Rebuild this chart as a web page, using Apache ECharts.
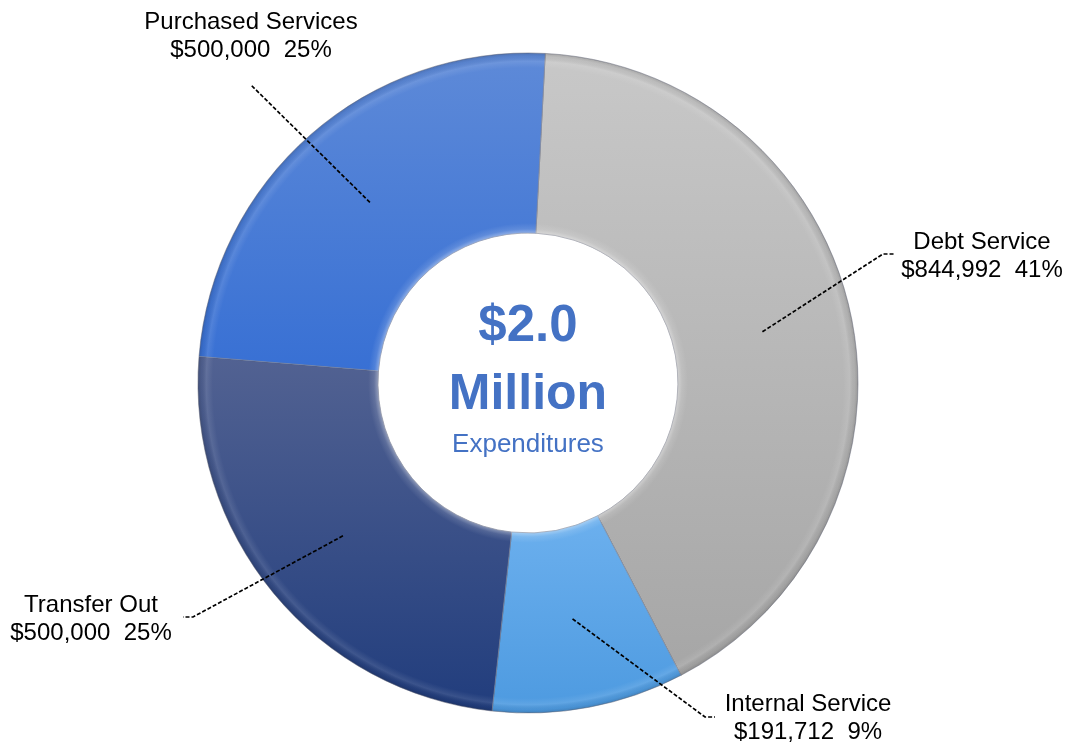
<!DOCTYPE html>
<html>
<head>
<meta charset="utf-8">
<script src="https://cdn.jsdelivr.net/npm/echarts@6/dist/echarts.min.js"></script>
<style>
  html, body { margin: 0; padding: 0; background: #ffffff; }
  #chart { width: 1072px; height: 747px; }
</style>
</head>
<body>
<div id="chart"></div>
<script>
// Expenditure categories, clockwise from the top
const categories = ['Debt Service', 'Internal Service', 'Transfer Out', 'Purchased Services'];
const amounts = [844992, 191712, 500000, 500000];

// Centre caption
const totalLabel = '$2.0';
const unitLabel = 'Million';
const captionLabel = 'Expenditures';

// Slice fills (top colour, bottom colour)
const sliceFills = [
  ['#c8c8c8', '#a6a6a6'],
  ['#6cb0ee', '#4d9ae0'],
  ['#526292', '#213d7d'],
  ['#5e8ad8', '#3870d4']
];

// Leader lines and label placement (label centre, elbow, end)
const leaders = [
  { label: [982, 256], elbow: [883, 254], end: [894, 254] },
  { label: [808, 718], elbow: [705, 717], end: [715, 717] },
  { label: [91, 619],  elbow: [193, 617], end: [183, 617] },
  { label: [251, 36],  elbow: [251, 85],  end: [251, 85] }
];

const FONT = '"Liberation Sans", Arial, Helvetica, sans-serif';
const CENTER = ['49.25%', '51.27%'];
const R_IN = 150, R_OUT = 330, R_MID = 240;
const START_ANGLE = 87;

const chart = echarts.init(document.getElementById('chart'), null, { renderer: 'canvas' });
const W = chart.getWidth(), H = chart.getHeight();
const cx = parseFloat(CENTER[0]) / 100 * W;
const cy = parseFloat(CENTER[1]) / 100 * H;

const fmtMoney = v => '$' + v.toLocaleString('en-US');

const sliceData = categories.map((name, i) => ({
  name,
  value: amounts[i],
  itemStyle: {
    color: {
      type: 'linear', x: 0, y: 0, x2: 0, y2: 1,
      colorStops: [
        { offset: 0, color: sliceFills[i][0] },
        { offset: 1, color: sliceFills[i][1] }
      ]
    }
  }
}));

const plainData = categories.map((name, i) => ({ name, value: amounts[i] }));

// Soft bevel along the inner and outer rims
const tIn = R_IN / R_OUT;
const bevel = {
  type: 'radial', x: cx, y: cy, r: R_OUT, global: true,
  colorStops: [
    { offset: 0, color: 'rgba(255,255,255,0)' },
    { offset: tIn, color: 'rgba(255,255,255,0.38)' },
    { offset: tIn + 0.012, color: 'rgba(255,255,255,0.12)' },
    { offset: tIn + 0.03, color: 'rgba(255,255,255,0)' },
    { offset: 0.955, color: 'rgba(255,255,255,0)' },
    { offset: 0.975, color: 'rgba(255,255,255,0.10)' },
    { offset: 0.99, color: 'rgba(0,0,0,0.05)' },
    { offset: 1, color: 'rgba(0,0,0,0.16)' }
  ]
};

const option = {
  backgroundColor: '#ffffff',
  animation: false,
  series: [
    {
      type: 'pie',
      center: CENTER,
      radius: [R_IN, R_OUT],
      startAngle: START_ANGLE,
      clockwise: true,
      silent: true,
      label: { show: false },
      labelLine: { show: false },
      itemStyle: { borderColor: 'rgba(30,35,60,0.4)', borderWidth: 1 },
      data: sliceData,
      z: 1
    },
    {
      type: 'pie',
      center: CENTER,
      radius: [R_IN, R_OUT],
      startAngle: START_ANGLE,
      clockwise: true,
      silent: true,
      label: { show: false },
      labelLine: { show: false },
      itemStyle: { color: bevel, borderColor: 'rgba(255,255,255,0.15)', borderWidth: 1 },
      data: plainData,
      z: 2
    },
    {
      // Transparent ring at mid-width: anchors the dashed leaders inside each slice
      type: 'pie',
      center: CENTER,
      radius: [0, R_MID],
      startAngle: START_ANGLE,
      clockwise: true,
      silent: true,
      avoidLabelOverlap: false,
      itemStyle: { color: 'rgba(0,0,0,0)' },
      label: {
        show: true,
        position: 'outside',
        formatter: p => p.name + '\n' + fmtMoney(p.value) + '  ' + Math.round(p.percent) + '%',
        color: '#000000',
        fontFamily: FONT,
        fontSize: 24,
        lineHeight: 28,
        align: 'center'
      },
      labelLine: {
        show: true,
        length: 20,
        length2: 10,
        lineStyle: { color: '#000000', width: 1.7, type: [4, 2] }
      },
      labelLayout: function (p) {
        const L = leaders[p.dataIndex];
        const pts = p.labelLinePoints;
        const start = pts && pts.length ? pts[0] : L.elbow;
        return {
          x: L.label[0],
          y: L.label[1],
          align: 'center',
          verticalAlign: 'middle',
          labelLinePoints: [start, L.elbow, L.end]
        };
      },
      data: plainData,
      z: 3
    }
  ],
  graphic: [
    {
      type: 'text', z: 10,
      style: {
        x: cx, y: 327, text: totalLabel, align: 'center', verticalAlign: 'middle',
        font: 'bold 51px ' + FONT, fill: '#4472c4',
        shadowColor: 'rgba(0,0,0,0.25)', shadowBlur: 3, shadowOffsetX: 1, shadowOffsetY: 2
      }
    },
    {
      type: 'text', z: 10,
      style: {
        x: cx, y: 395, text: unitLabel, align: 'center', verticalAlign: 'middle',
        font: 'bold 50px ' + FONT, fill: '#4472c4',
        shadowColor: 'rgba(0,0,0,0.25)', shadowBlur: 3, shadowOffsetX: 1, shadowOffsetY: 2
      }
    },
    {
      type: 'text', z: 10,
      style: {
        x: cx, y: 445, text: captionLabel, align: 'center', verticalAlign: 'middle',
        font: '26px ' + FONT, fill: '#4472c4',
        shadowColor: 'rgba(0,0,0,0.2)', shadowBlur: 2, shadowOffsetX: 1, shadowOffsetY: 1
      }
    }
  ]
};

chart.setOption(option);
</script>
</body>
</html>
